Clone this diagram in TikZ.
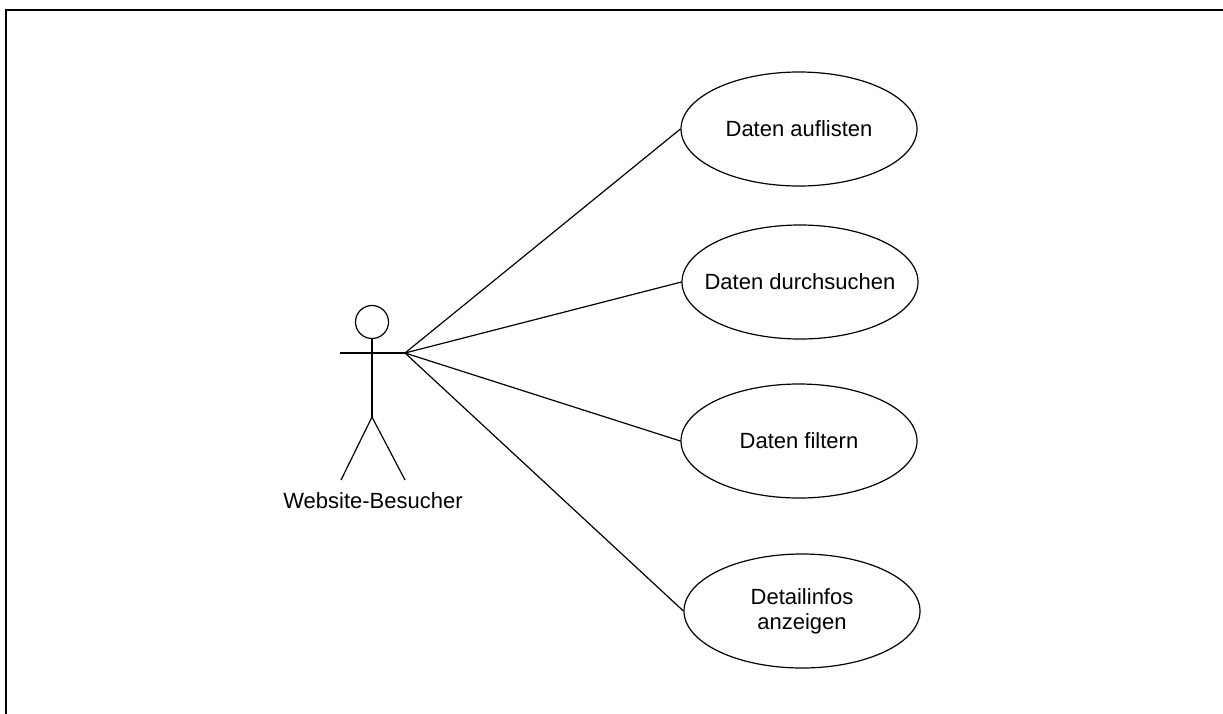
\documentclass[tikz,border=0pt]{standalone}
\usepackage{fontspec}
\setmainfont{Liberation Sans}
\usetikzlibrary{shapes.geometric}
\begin{document}
\begin{tikzpicture}[x=1pt,y=-1pt,
  line width=1.2pt,
  usecase/.style={ellipse,draw,line width=1.2pt,minimum width=236pt,minimum height=114pt,
    inner xsep=-30pt,inner ysep=0pt,align=center,font=\fontsize{22}{25}\selectfont},
  lbl/.style={font=\fontsize{22}{25}\selectfont,inner sep=0pt},
  frame/.style={line width=2.6pt}]
\useasboundingbox (0,0) rectangle (1223,713);
% frame
\draw[frame] (1224,10) -- (6,10) -- (6,714);
% actor
\node[circle,draw,line width=1.2pt,minimum size=33pt,inner sep=0pt] (head) at (372,322) {};
\coordinate (hip) at (372,417);
\coordinate (lhand) at (340,353);
\coordinate (rhand) at (405,353);
\coordinate (lfoot) at (341,480);
\coordinate (rfoot) at (405,480);
\draw (head.south) -- (hip);
\draw (lhand) -- (rhand);
\draw (lfoot) -- (hip) -- (rfoot);
\node[lbl] (actor) at (373,501) {Website-Besucher};
% use cases
\node[usecase] (u1) at (799,129) {Daten auflisten};
\node[usecase] (u2) at (800,282) {Daten durchsuchen};
\node[usecase] (u3) at (799,441) {Daten filtern};
\node[usecase] (u4) at (802,611) {Detailinfos\\anzeigen};
% associations
\draw (rhand) -- (u1.west);
\draw (rhand) -- (u2.west);
\draw (rhand) -- (u3.west);
\draw (rhand) -- (u4.west);
\end{tikzpicture}
\end{document}
